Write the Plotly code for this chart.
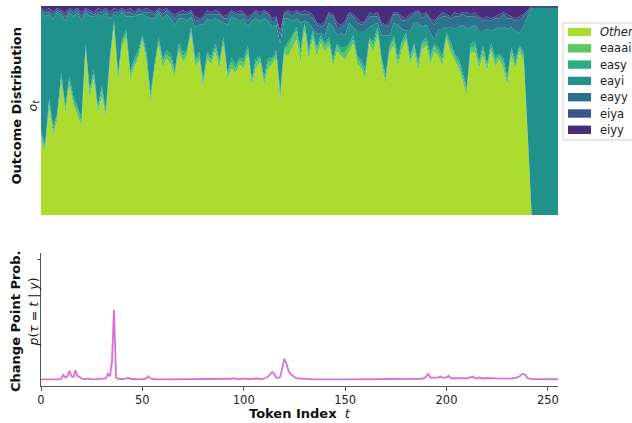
import plotly.graph_objects as go

# ---------------- data ----------------
# sample positions (token index) for the outcome distribution
tokens_dist = list(range(0, 256, 2)) + [255]

series_names = ["Other", "eaaai", "easy", "eayi", "eayy", "eiya", "eiyy"]
series_colors = ["#addc30", "#5ec962", "#28ae80", "#21918c", "#2c728e", "#3b528b", "#472d7b"]

other = [
    0.36, 0.30, 0.50, 0.38, 0.45, 0.62, 0.48, 0.60,
    0.52, 0.47, 0.42, 0.77, 0.55, 0.64, 0.48, 0.56,
    0.46, 0.72, 0.88, 0.62, 0.80, 0.84, 0.64, 0.70,
    0.74, 0.82, 0.72, 0.54, 0.68, 0.80, 0.70, 0.74,
    0.72, 0.66, 0.78, 0.73, 0.76, 0.86, 0.71, 0.74,
    0.61, 0.74, 0.72, 0.78, 0.70, 0.81, 0.65, 0.70,
    0.68, 0.72, 0.70, 0.77, 0.62, 0.70, 0.73, 0.62,
    0.70, 0.72, 0.75, 0.54, 0.77, 0.76, 0.80, 0.84,
    0.73, 0.88, 0.74, 0.85, 0.76, 0.83, 0.78, 0.81,
    0.71, 0.78, 0.76, 0.74, 0.78, 0.82, 0.72, 0.70,
    0.65, 0.82, 0.78, 0.86, 0.71, 0.63, 0.78, 0.81,
    0.71, 0.79, 0.85, 0.72, 0.78, 0.69, 0.79, 0.81,
    0.72, 0.78, 0.76, 0.71, 0.84, 0.78, 0.74, 0.70,
    0.64, 0.57, 0.78, 0.78, 0.70, 0.76, 0.69, 0.78,
    0.71, 0.74, 0.70, 0.62, 0.76, 0.70, 0.78, 0.74,
    0.38, 0.00, 0.00, 0.00, 0.00, 0.00, 0.00, 0.00,
    0.00,
]

eaaai = [
    0.02, 0.02, 0.03, 0.02, 0.02, 0.03, 0.02, 0.02,
    0.02, 0.03, 0.02, 0.02, 0.03, 0.02, 0.02, 0.03,
    0.02, 0.02, 0.02, 0.03, 0.02, 0.02, 0.03, 0.02,
    0.02, 0.02, 0.03, 0.02, 0.02, 0.02, 0.03, 0.02,
    0.03, 0.02, 0.02, 0.03, 0.02, 0.02, 0.03, 0.02,
    0.02, 0.03, 0.02, 0.02, 0.03, 0.02, 0.02, 0.03,
    0.02, 0.02, 0.03, 0.02, 0.02, 0.03, 0.02, 0.02,
    0.03, 0.02, 0.02, 0.03, 0.02, 0.05, 0.05, 0.04,
    0.04, 0.03, 0.03, 0.02, 0.03, 0.02, 0.03, 0.02,
    0.02, 0.03, 0.02, 0.04, 0.03, 0.02, 0.03, 0.02,
    0.03, 0.02, 0.03, 0.02, 0.03, 0.02, 0.02, 0.03,
    0.02, 0.03, 0.02, 0.02, 0.03, 0.02, 0.03, 0.02,
    0.03, 0.03, 0.02, 0.03, 0.02, 0.03, 0.02, 0.03,
    0.02, 0.03, 0.02, 0.03, 0.02, 0.03, 0.02, 0.02,
    0.03, 0.02, 0.03, 0.02, 0.03, 0.02, 0.02, 0.02,
    0.01, 0.00, 0.00, 0.00, 0.00, 0.00, 0.00, 0.00,
    0.00,
]

easy = [
    0.02, 0.01, 0.02, 0.02, 0.01, 0.02, 0.01, 0.02,
    0.02, 0.01, 0.02, 0.02, 0.01, 0.02, 0.01, 0.02,
    0.02, 0.01, 0.02, 0.02, 0.01, 0.02, 0.01, 0.02,
    0.02, 0.01, 0.02, 0.02, 0.01, 0.02, 0.01, 0.02,
    0.02, 0.01, 0.02, 0.02, 0.01, 0.02, 0.01, 0.02,
    0.02, 0.01, 0.02, 0.02, 0.01, 0.02, 0.01, 0.02,
    0.02, 0.01, 0.02, 0.02, 0.01, 0.02, 0.01, 0.02,
    0.02, 0.01, 0.02, 0.02, 0.01, 0.02, 0.01, 0.02,
    0.02, 0.01, 0.02, 0.02, 0.01, 0.02, 0.01, 0.02,
    0.02, 0.01, 0.02, 0.02, 0.01, 0.02, 0.01, 0.02,
    0.02, 0.01, 0.02, 0.02, 0.01, 0.02, 0.01, 0.02,
    0.02, 0.01, 0.02, 0.02, 0.01, 0.02, 0.01, 0.02,
    0.02, 0.01, 0.02, 0.02, 0.01, 0.02, 0.01, 0.02,
    0.02, 0.01, 0.02, 0.02, 0.01, 0.02, 0.01, 0.02,
    0.02, 0.01, 0.02, 0.02, 0.01, 0.02, 0.01, 0.02,
    0.01, 0.00, 0.00, 0.00, 0.00, 0.00, 0.00, 0.00,
    0.00,
]

eayi = [
    0.56, 0.61, 0.40, 0.51, 0.48, 0.28, 0.40, 0.30,
    0.38, 0.45, 0.46, 0.15, 0.35, 0.25, 0.44, 0.33,
    0.46, 0.18, 0.03, 0.27, 0.13, 0.06, 0.26, 0.20,
    0.17, 0.10, 0.17, 0.36, 0.22, 0.12, 0.19, 0.17,
    0.17, 0.22, 0.12, 0.16, 0.14, 0.05, 0.15, 0.13,
    0.26, 0.16, 0.17, 0.12, 0.19, 0.07, 0.23, 0.20,
    0.22, 0.18, 0.19, 0.09, 0.28, 0.19, 0.17, 0.28,
    0.18, 0.15, 0.12, 0.23, 0.14, 0.11, 0.07, 0.04,
    0.13, 0.01, 0.13, 0.01, 0.07, 0.01, 0.04, 0.07,
    0.15, 0.04, 0.07, 0.06, 0.10, 0.04, 0.12, 0.14,
    0.18, 0.05, 0.08, 0.02, 0.11, 0.19, 0.05, 0.06,
    0.16, 0.06, 0.01, 0.12, 0.10, 0.19, 0.07, 0.06,
    0.10, 0.02, 0.09, 0.13, 0.03, 0.07, 0.12, 0.15,
    0.23, 0.28, 0.08, 0.08, 0.15, 0.07, 0.17, 0.06,
    0.13, 0.13, 0.15, 0.23, 0.10, 0.14, 0.06, 0.12,
    0.55, 0.99, 0.99, 0.99, 0.99, 0.99, 0.99, 0.99,
    0.99,
]

eayy = [
    0.01, 0.02, 0.01, 0.02, 0.01, 0.01, 0.02, 0.01,
    0.02, 0.01, 0.02, 0.01, 0.02, 0.01, 0.01, 0.02,
    0.01, 0.02, 0.01, 0.02, 0.01, 0.02, 0.02, 0.01,
    0.02, 0.01, 0.02, 0.03, 0.02, 0.01, 0.02, 0.02,
    0.02, 0.03, 0.02, 0.02, 0.03, 0.02, 0.03, 0.02,
    0.03, 0.02, 0.03, 0.02, 0.03, 0.02, 0.03, 0.02,
    0.02, 0.03, 0.02, 0.03, 0.02, 0.03, 0.02, 0.03,
    0.03, 0.02, 0.03, 0.04, 0.02, 0.03, 0.02, 0.03,
    0.04, 0.03, 0.04, 0.05, 0.04, 0.03, 0.05, 0.04,
    0.05, 0.04, 0.03, 0.05, 0.04, 0.05, 0.04, 0.03,
    0.04, 0.05, 0.04, 0.03, 0.05, 0.04, 0.05, 0.04,
    0.05, 0.04, 0.05, 0.06, 0.04, 0.05, 0.04, 0.05,
    0.06, 0.07, 0.05, 0.06, 0.05, 0.04, 0.06, 0.05,
    0.05, 0.06, 0.05, 0.04, 0.06, 0.05, 0.04, 0.05,
    0.05, 0.04, 0.06, 0.05, 0.04, 0.05, 0.06, 0.05,
    0.02, 0.00, 0.00, 0.00, 0.00, 0.00, 0.00, 0.00,
    0.00,
]

eiya = [
    0.01, 0.01, 0.02, 0.01, 0.01, 0.01, 0.02, 0.01,
    0.01, 0.01, 0.02, 0.01, 0.01, 0.01, 0.02, 0.01,
    0.01, 0.01, 0.02, 0.01, 0.01, 0.01, 0.02, 0.01,
    0.01, 0.01, 0.02, 0.01, 0.01, 0.01, 0.02, 0.01,
    0.01, 0.02, 0.01, 0.02, 0.01, 0.01, 0.02, 0.01,
    0.01, 0.02, 0.01, 0.02, 0.01, 0.01, 0.02, 0.01,
    0.01, 0.02, 0.01, 0.02, 0.01, 0.01, 0.02, 0.01,
    0.01, 0.02, 0.01, 0.02, 0.01, 0.01, 0.02, 0.01,
    0.01, 0.02, 0.01, 0.02, 0.01, 0.01, 0.02, 0.01,
    0.01, 0.02, 0.01, 0.02, 0.01, 0.01, 0.02, 0.01,
    0.01, 0.02, 0.01, 0.02, 0.01, 0.01, 0.02, 0.01,
    0.01, 0.02, 0.01, 0.02, 0.01, 0.01, 0.02, 0.01,
    0.01, 0.02, 0.01, 0.02, 0.01, 0.01, 0.02, 0.01,
    0.01, 0.02, 0.01, 0.02, 0.01, 0.01, 0.02, 0.01,
    0.01, 0.02, 0.01, 0.02, 0.01, 0.01, 0.02, 0.01,
    0.01, 0.01, 0.01, 0.01, 0.01, 0.01, 0.01, 0.01,
    0.01,
]

eiyy = [
    0.01, 0.02, 0.01, 0.03, 0.01, 0.02, 0.03, 0.01,
    0.02, 0.01, 0.03, 0.01, 0.02, 0.03, 0.01, 0.02,
    0.01, 0.03, 0.01, 0.02, 0.01, 0.02, 0.01, 0.03,
    0.01, 0.02, 0.01, 0.02, 0.03, 0.01, 0.02, 0.01,
    0.03, 0.04, 0.03, 0.02, 0.03, 0.02, 0.05, 0.06,
    0.05, 0.02, 0.03, 0.02, 0.03, 0.05, 0.04, 0.02,
    0.03, 0.02, 0.03, 0.05, 0.04, 0.02, 0.03, 0.02,
    0.03, 0.06, 0.05, 0.12, 0.03, 0.02, 0.03, 0.02,
    0.03, 0.02, 0.03, 0.04, 0.08, 0.09, 0.07, 0.03,
    0.04, 0.08, 0.09, 0.07, 0.03, 0.04, 0.06, 0.08,
    0.07, 0.03, 0.04, 0.03, 0.08, 0.09, 0.07, 0.03,
    0.03, 0.05, 0.06, 0.04, 0.03, 0.02, 0.04, 0.03,
    0.06, 0.07, 0.05, 0.03, 0.04, 0.05, 0.03, 0.04,
    0.03, 0.03, 0.04, 0.03, 0.05, 0.06, 0.05, 0.06,
    0.05, 0.04, 0.03, 0.04, 0.05, 0.06, 0.05, 0.04,
    0.02, 0.00, 0.00, 0.00, 0.00, 0.00, 0.00, 0.00,
    0.00,
]

# change point probability, one value per token 0..255
tokens_cp = list(range(256))
cp_prob = [
    0.004, 0.004, 0.004, 0.004, 0.004, 0.004, 0.004, 0.004, 0.004, 0.005, 0.012, 0.042, 0.020, 0.030, 0.075, 0.030,
    0.025, 0.080, 0.030, 0.028, 0.010, 0.008, 0.006, 0.012, 0.005, 0.004, 0.004, 0.005, 0.004, 0.004, 0.004, 0.005,
    0.012, 0.052, 0.030, 0.150, 0.580, 0.020, 0.010, 0.008, 0.007, 0.008, 0.012, 0.018, 0.010, 0.007, 0.006, 0.006,
    0.005, 0.005, 0.006, 0.008, 0.015, 0.030, 0.012, 0.007, 0.006, 0.005, 0.005, 0.005, 0.004, 0.005, 0.005, 0.004,
    0.004, 0.004, 0.005, 0.005, 0.004, 0.004, 0.004, 0.005, 0.005, 0.004, 0.004, 0.004, 0.005, 0.004, 0.004, 0.005,
    0.006, 0.005, 0.004, 0.004, 0.005, 0.004, 0.004, 0.004, 0.005, 0.005, 0.004, 0.004, 0.005, 0.006, 0.010, 0.014,
    0.008, 0.006, 0.007, 0.009, 0.008, 0.012, 0.007, 0.006, 0.008, 0.010, 0.014, 0.009, 0.007, 0.008, 0.012, 0.018,
    0.028, 0.045, 0.066, 0.050, 0.020, 0.018, 0.025, 0.100, 0.175, 0.140, 0.080, 0.050, 0.035, 0.025, 0.015, 0.012,
    0.012, 0.010, 0.010, 0.012, 0.009, 0.006, 0.005, 0.005, 0.004, 0.004, 0.004, 0.004, 0.004, 0.004, 0.005, 0.004,
    0.004, 0.004, 0.005, 0.004, 0.004, 0.004, 0.004, 0.004, 0.005, 0.004, 0.004, 0.004, 0.004, 0.004, 0.005, 0.005,
    0.006, 0.005, 0.006, 0.005, 0.006, 0.008, 0.006, 0.005, 0.005, 0.006, 0.005, 0.006, 0.008, 0.006, 0.005, 0.006,
    0.007, 0.006, 0.005, 0.006, 0.007, 0.006, 0.008, 0.007, 0.008, 0.010, 0.009, 0.010, 0.012, 0.015, 0.030, 0.050,
    0.020, 0.018, 0.019, 0.020, 0.022, 0.028, 0.020, 0.018, 0.020, 0.035, 0.016, 0.014, 0.015, 0.013, 0.014, 0.016,
    0.018, 0.015, 0.013, 0.020, 0.025, 0.028, 0.015, 0.012, 0.020, 0.013, 0.012, 0.014, 0.015, 0.016, 0.018, 0.014,
    0.013, 0.012, 0.010, 0.010, 0.009, 0.010, 0.012, 0.011, 0.012, 0.014, 0.018, 0.022, 0.030, 0.045, 0.050, 0.040,
    0.015, 0.008, 0.007, 0.007, 0.006, 0.006, 0.006, 0.006, 0.006, 0.006, 0.006, 0.006, 0.006, 0.006, 0.006, 0.006,
]

x_ticks = [0, 50, 100, 150, 200, 250]

# ---------------- figure ----------------
FONT = "DejaVu Sans"
W, H = 632, 423
ML, MR, MT, MB = 41, 74, 6, 37
PW = W - ML - MR
PH = H - MT - MB


def px_x(px):
    return (px - ML) / PW


def px_y(py):
    return (H - MB - py) / PH


fig = go.Figure()

series_values = [other, eaaai, easy, eayi, eayy, eiya, eiyy]
for i, (name, vals, col) in enumerate(zip(series_names, series_values, series_colors)):
    kw = dict(groupnorm="fraction") if i == 0 else {}
    fig.add_trace(go.Scatter(
        x=tokens_dist, y=vals, name=name, stackgroup="dist", showlegend=False,
        mode="none", fillcolor=col, xaxis="x", yaxis="y", **kw,
    ))

fig.add_trace(go.Scatter(
    x=tokens_cp, y=cp_prob, mode="lines", showlegend=False,
    line=dict(color="#da70d6", width=1.8), xaxis="x2", yaxis="y2",
))

axis_col = "#555555"
fig.update_layout(
    width=W, height=H,
    margin=dict(l=ML, r=MR, t=MT, b=MB, autoexpand=False),
    paper_bgcolor="white", plot_bgcolor="white",
    font=dict(family=FONT, size=11, color="#222222"),
    xaxis=dict(domain=[0, 1], range=[0, 255], visible=False, anchor="y"),
    yaxis=dict(domain=[px_y(215), 1.0], range=[0, 1], visible=False, anchor="x"),
    xaxis2=dict(domain=[0, 1], range=[0, 255], anchor="y2", tickvals=x_ticks,
                ticks="outside", ticklen=3.5, tickcolor=axis_col, showline=True,
                linecolor=axis_col, linewidth=1, showgrid=False, zeroline=False,
                tickfont=dict(size=11.5, color="#222222")),
    yaxis2=dict(domain=[0, px_y(253)], range=[-0.05, 1.05], anchor="x2", tickvals=[1],
                showticklabels=False, ticks="outside", ticklen=3.5, tickcolor=axis_col,
                showline=True, linecolor=axis_col, linewidth=1, showgrid=False,
                zeroline=False),
    showlegend=False,
)

# ---- legend box (drawn in paper coordinates, to the right of the top panel) ----
fig.add_shape(type="rect", xref="paper", yref="paper",
              x0=px_x(563), x1=px_x(645), y0=px_y(140), y1=px_y(23),
              line=dict(color="#d0d0d0", width=1), fillcolor="white", layer="above")
for i, (name, col) in enumerate(zip(series_names, series_colors)):
    yc = 32 + i * 16.3
    fig.add_shape(type="rect", xref="paper", yref="paper",
                  x0=px_x(568), x1=px_x(591), y0=px_y(yc + 4.2), y1=px_y(yc - 4.2),
                  line=dict(width=0), fillcolor=col, layer="above")
    label = "<i>Other</i>" if name == "Other" else name
    fig.add_annotation(text=label, x=px_x(598), y=px_y(yc), xref="paper", yref="paper",
                       showarrow=False, xanchor="left", yanchor="middle",
                       font=dict(family=FONT, size=11.5, color="#222222"))

annos = [
    dict(text="<b>Outcome Distribution</b>", x=px_x(15.5), y=px_y(106), size=13),
    dict(text="<i>o</i><sub><i>t</i></sub>", x=px_x(32.5), y=px_y(106), size=12.5),
    dict(text="<b>Change Point Prob.</b>", x=px_x(15), y=px_y(321), size=13),
    dict(text="<i>p</i>(<i>τ</i> = <i>t</i> | <i>y</i>)", x=px_x(32.5), y=px_y(312), size=12.5),
]
for a in annos:
    fig.add_annotation(text=a["text"], x=a["x"], y=a["y"], xref="paper", yref="paper",
                       showarrow=False, textangle=-90, xanchor="center", yanchor="middle",
                       font=dict(family=FONT, size=a["size"], color="#111111"))

fig.add_annotation(text="<b>Token Index</b>\u00a0\u00a0<i>t</i>", x=px_x(300), y=px_y(413.5),
                   xref="paper", yref="paper", showarrow=False, xanchor="center",
                   yanchor="middle", font=dict(family=FONT, size=13, color="#111111"))

fig.write_html("out.html")
